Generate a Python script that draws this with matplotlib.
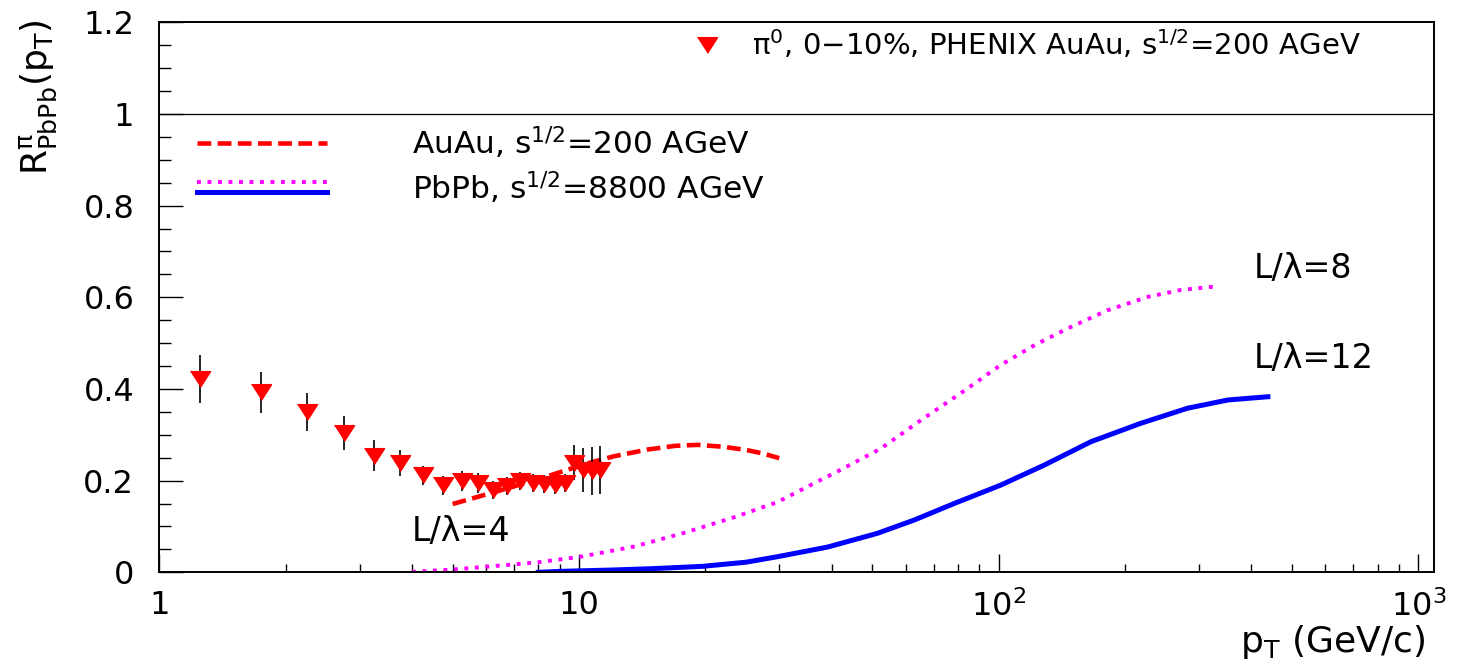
import numpy as np
import matplotlib
matplotlib.use('Agg')
import matplotlib.pyplot as plt
from matplotlib.ticker import FixedLocator, FixedFormatter, MultipleLocator
from matplotlib.lines import Line2D

plt.rcParams['font.family'] = ['DejaVu Sans']
plt.rcParams['mathtext.default'] = 'regular'

# PHENIX pi0 data, 0-10% AuAu
pt_data = [1.25, 1.75, 2.25, 2.75, 3.25, 3.75, 4.25, 4.75, 5.25, 5.75, 6.25,
           6.75, 7.25, 7.75, 8.25, 8.75, 9.25, 9.75, 10.25, 10.75, 11.25]
raa_data = [0.422, 0.393, 0.350, 0.304, 0.254, 0.239, 0.212, 0.190, 0.199, 0.195, 0.180,
            0.188, 0.199, 0.195, 0.193, 0.190, 0.195, 0.239, 0.223, 0.221, 0.223]
raa_err = [0.053, 0.045, 0.042, 0.037, 0.034, 0.028, 0.021, 0.021, 0.022, 0.021, 0.020,
           0.020, 0.020, 0.020, 0.020, 0.020, 0.020, 0.038, 0.048, 0.052, 0.052]

# AuAu calculation, L/lambda = 4
pt_auau = [5.0, 6.4, 8.0, 9.2, 10.5, 12.1, 14.6, 17.0, 19.2, 22.0, 25.0, 27.5, 30.0]
raa_auau = [0.149, 0.177, 0.203, 0.221, 0.238, 0.253, 0.268, 0.276, 0.278, 0.274, 0.267, 0.259, 0.249]

# PbPb calculation, L/lambda = 8
pt_pb8 = [4.0, 5.0, 6.0, 8.0, 10.1, 13.5, 17.8, 23.4, 29.7, 37.0, 41.3, 52.4, 65.3,
          81.3, 101, 122, 146, 182, 227, 272, 324]
raa_pb8 = [0.001, 0.006, 0.012, 0.022, 0.034, 0.056, 0.086, 0.120, 0.153, 0.198, 0.220, 0.270, 0.332,
           0.391, 0.452, 0.496, 0.532, 0.572, 0.601, 0.616, 0.623]

# PbPb calculation, L/lambda = 12
pt_pb12 = [8.0, 9.0, 12.0, 15.0, 19.7, 25.0, 29.7, 39.1, 51.4, 62.9, 78.3, 101,
           128.5, 166, 218, 282, 352, 438]
raa_pb12 = [0.0, 0.002, 0.005, 0.008, 0.013, 0.022, 0.034, 0.055, 0.085, 0.114, 0.150, 0.190,
            0.234, 0.285, 0.325, 0.358, 0.376, 0.383]

xticks = [1, 10, 100, 1000]
xticklabels = ['1', '10', '$10^{2}$', '$10^{3}$']
yticks = [0, 0.2, 0.4, 0.6, 0.8, 1.0, 1.2]
yticklabels = ['0', '0.2', '0.4', '0.6', '0.8', '1', '1.2']

tri = [(-1, 0.78), (1, 0.78), (0, -0.78)]  # flat down triangle

fig = plt.figure(figsize=(14.63, 6.71), dpi=100)
ax = fig.add_axes([0.1089, 0.1471, 0.8713, 0.8197])

ax.axhline(1.0, color='black', lw=0.9)

ax.plot(pt_auau, raa_auau, color='red', lw=3.3, dashes=(3.0, 1.4))
ax.plot(pt_pb8, raa_pb8, color='magenta', lw=2.8, dashes=(1.0, 1.7))
ax.plot(pt_pb12, raa_pb12, color='blue', lw=3.6)

ax.errorbar(pt_data, raa_data, yerr=raa_err, fmt='none', ecolor='black', elinewidth=1.2, zorder=3)
ax.plot(pt_data, raa_data, ls='none', marker=tri, ms=14.5, color='red', mec='red', zorder=4)

ax.set_xscale('log')
ax.set_xlim(1, 1090)
ax.set_ylim(0, 1.2)

ax.xaxis.set_major_locator(FixedLocator(xticks))
ax.xaxis.set_major_formatter(FixedFormatter(xticklabels))
ax.xaxis.set_minor_locator(matplotlib.ticker.LogLocator(base=10, subs=np.arange(2, 10)))
ax.xaxis.set_minor_formatter(matplotlib.ticker.NullFormatter())
ax.yaxis.set_major_locator(FixedLocator(yticks))
ax.yaxis.set_major_formatter(FixedFormatter(yticklabels))
ax.yaxis.set_minor_locator(MultipleLocator(0.05))

ax.tick_params(axis='x', which='major', direction='in', length=13, width=1.0, pad=13,
               labelsize=23, top=False)
ax.tick_params(axis='x', which='minor', direction='in', length=6, width=1.0, top=False)
ax.tick_params(axis='y', which='major', direction='in', length=17, width=1.0, pad=18,
               labelsize=23, right=False)
ax.tick_params(axis='y', which='minor', direction='in', length=8.5, width=1.0, right=False)
for s in ax.spines.values():
    s.set_linewidth(1.4)

ax.set_ylabel(r'$R^{\pi}_{PbPb}(p_{T})$', fontsize=26, loc='top')
ax.yaxis.set_label_coords(-0.079, 1.005)
ax.set_xlabel(r'$p_{T}$ (GeV/c)', fontsize=26, loc='right')
ax.xaxis.set_label_coords(0.993, -0.092)

# legend, drawn by hand to match the layout
ax.plot([0.4296], [0.959], transform=ax.transAxes, marker=tri, ms=14.5, color='red', ls='none')
ax.text(0.465, 0.959, r'$\pi^{0}$, 0$-$10%, PHENIX AuAu, s$^{1/2}$=200 AGeV',
        transform=ax.transAxes, fontsize=21, va='center', ha='left')
ax.add_line(Line2D([0.0296, 0.1315], [0.7806, 0.7806], transform=ax.transAxes,
                   color='red', lw=3.3, dashes=(3.0, 1.4)))
ax.add_line(Line2D([0.0296, 0.1315], [0.7104, 0.7104], transform=ax.transAxes,
                   color='magenta', lw=2.8, dashes=(1.0, 1.7)))
ax.add_line(Line2D([0.0296, 0.1315], [0.6915, 0.6915], transform=ax.transAxes,
                   color='blue', lw=3.6))
ax.text(0.198, 0.7806, r'AuAu, s$^{1/2}$=200 AGeV', transform=ax.transAxes,
        fontsize=22.5, va='center', ha='left')
ax.text(0.198, 0.699, r'PbPb, s$^{1/2}$=8800 AGeV', transform=ax.transAxes,
        fontsize=22.5, va='center', ha='left')

# curve annotations
ax.text(4.0, 0.088, 'L/λ=4', fontsize=24, va='center', ha='left')
ax.text(405, 0.662, 'L/λ=8', fontsize=24, va='center', ha='left')
ax.text(405, 0.467, 'L/λ=12', fontsize=24, va='center', ha='left')

fig.savefig('out.png', dpi=100)
